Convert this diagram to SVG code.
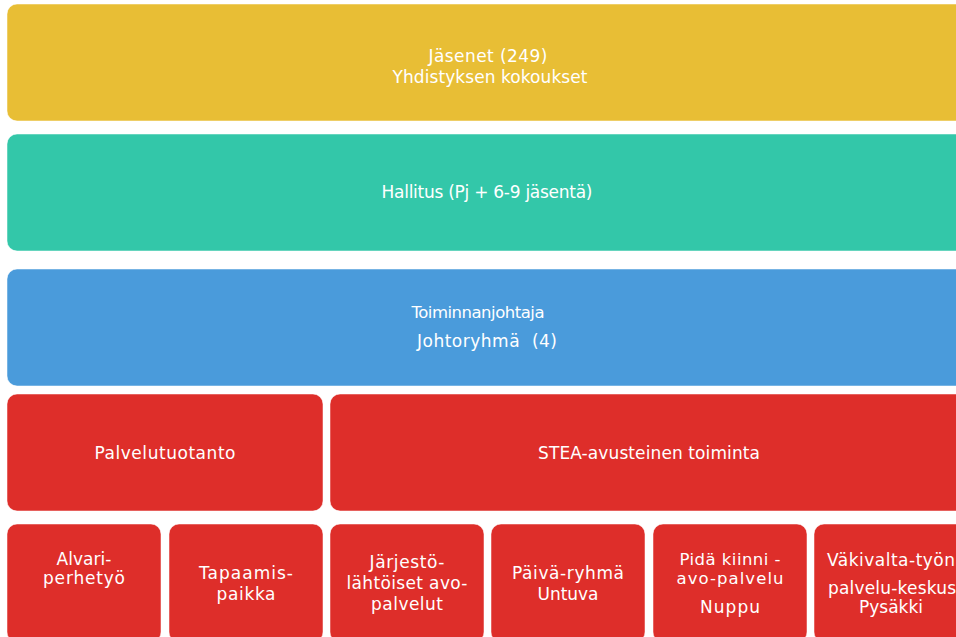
<svg xmlns="http://www.w3.org/2000/svg" width="956" height="637" viewBox="0 0 956 637">
<style>
.box{stroke:#ffffff;stroke-opacity:0.5;stroke-width:1}
.y{fill:#E8BE35}
.g{fill:#33C7A9}
.b{fill:#4A9BDB}
.r{fill:#DE2E2A}
text{font-family:"DejaVu Sans","Liberation Sans",sans-serif;font-size:17px;fill:#ffffff;text-anchor:middle}
.s{font-size:16.5px}
</style>
<rect width="956" height="637" fill="#ffffff"/>
<g id="connectors"/>
<g id="jasenet">
<rect class="box y" x="7" y="4" width="966" height="117" rx="10"/>
<text x="488" y="62" textLength="119">Jäsenet (249)</text>
<text x="490" y="83" textLength="195">Yhdistyksen kokoukset</text>
</g>
<g id="hallitus">
<rect class="box g" x="7" y="134" width="966" height="117" rx="10"/>
<text x="487" y="198" textLength="211">Hallitus (Pj + 6-9 jäsentä)</text>
</g>
<g id="toiminnanjohtaja">
<rect class="box b" x="7" y="269" width="966" height="117" rx="10"/>
<text class="s" x="478" y="318" textLength="133">Toiminnanjohtaja</text>
<text x="487" y="347" textLength="140" xml:space="preserve">Johtoryhmä  (4)</text>
</g>
<g id="palvelutuotanto">
<rect class="box r" x="7" y="394" width="316" height="117" rx="10"/>
<text x="165" y="459" textLength="141">Palvelutuotanto</text>
</g>
<g id="stea">
<rect class="box r" x="330" y="394" width="638" height="117" rx="10"/>
<text x="649" y="459" textLength="222">STEA-avusteinen toiminta</text>
</g>
<g id="alvari">
<rect class="box r" x="7" y="524" width="154" height="118" rx="10"/>
<text x="84" y="565" textLength="55">Alvari-</text>
<text x="84" y="584" textLength="82">perhetyö</text>
</g>
<g id="tapaamispaikka">
<rect class="box r" x="169" y="524" width="154" height="118" rx="10"/>
<text x="246" y="579" textLength="94">Tapaamis-</text>
<text x="246" y="600" textLength="59">paikka</text>
</g>
<g id="jarjesto">
<rect class="box r" x="330" y="524" width="154" height="118" rx="10"/>
<text x="407" y="568" textLength="75">Järjestö-</text>
<text x="407" y="589" textLength="121">lähtöiset avo-</text>
<text x="407" y="610" textLength="72">palvelut</text>
</g>
<g id="paivaryhma">
<rect class="box r" x="491" y="524" width="154" height="118" rx="10"/>
<text x="568" y="579" textLength="112">Päivä-ryhmä</text>
<text x="568" y="600" textLength="61">Untuva</text>
</g>
<g id="pidakiinni">
<rect class="box r" x="653" y="524" width="154" height="118" rx="10"/>
<text class="s" x="730" y="565" textLength="101">Pidä kiinni -</text>
<text class="s" x="730" y="584" textLength="107">avo-palvelu</text>
<text x="730" y="613" textLength="60">Nuppu</text>
</g>
<g id="vakivalta">
<rect class="box r" x="814" y="524" width="154" height="118" rx="10"/>
<text x="891" y="566" textLength="128">Väkivalta-työn</text>
<text x="892" y="594" textLength="128">palvelu-keskus</text>
<text x="891" y="613" textLength="64">Pysäkki</text>
</g>
</svg>
